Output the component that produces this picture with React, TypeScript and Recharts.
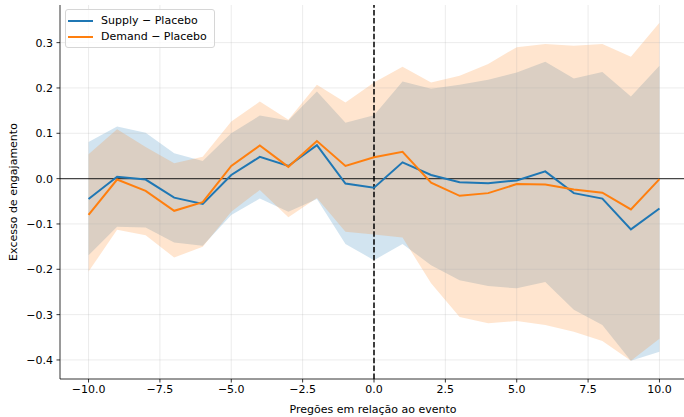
import React from "react";
import {
  ComposedChart,
  Area,
  Line,
  XAxis,
  YAxis,
  ReferenceLine,
} from "recharts";

const steps = [-10, -9, -8, -7, -6, -5, -4, -3, -2, -1, 0, 1, 2, 3, 4, 5, 6, 7, 8, 9, 10];
const supply = [-0.045, 0.004, -0.002, -0.042, -0.056, 0.008, 0.048, 0.028, 0.074, -0.011, -0.02, 0.036, 0.008, -0.008, -0.01, -0.004, 0.016, -0.032, -0.044, -0.112, -0.066];
const supplyLow = [-0.169, -0.106, -0.108, -0.141, -0.148, -0.08, -0.044, -0.073, -0.045, -0.144, -0.18, -0.144, -0.191, -0.224, -0.237, -0.242, -0.228, -0.289, -0.323, -0.402, -0.382];
const supplyHigh = [0.081, 0.115, 0.101, 0.056, 0.039, 0.1, 0.139, 0.128, 0.192, 0.123, 0.14, 0.214, 0.198, 0.207, 0.218, 0.234, 0.258, 0.221, 0.235, 0.181, 0.249];
const demand = [-0.08, -0.002, -0.027, -0.071, -0.052, 0.028, 0.073, 0.026, 0.083, 0.028, 0.047, 0.059, -0.009, -0.038, -0.032, -0.012, -0.013, -0.024, -0.031, -0.068, -0.001];
const demandLow = [-0.205, -0.113, -0.125, -0.174, -0.15, -0.073, -0.025, -0.085, -0.043, -0.117, -0.123, -0.13, -0.231, -0.305, -0.319, -0.314, -0.323, -0.338, -0.358, -0.402, -0.353];
const demandHigh = [0.054, 0.109, 0.07, 0.034, 0.048, 0.126, 0.17, 0.13, 0.207, 0.168, 0.212, 0.247, 0.212, 0.227, 0.253, 0.29, 0.297, 0.293, 0.297, 0.269, 0.344];

const xTicks = [-10, -7.5, -5, -2.5, 0, 2.5, 5, 7.5, 10];
const yTicks = [-0.4, -0.3, -0.2, -0.1, 0, 0.1, 0.2, 0.3];

const seriesNames = ["Supply \u2212 Placebo", "Demand \u2212 Placebo"];
const xLabel = "Preg\u00f5es em rela\u00e7\u00e3o ao evento";
const yLabel = "Excesso de engajamento";

const BLUE = "#1f77b4";
const ORANGE = "#ff7f0e";
const FONT = "DejaVu Sans, sans-serif";
const FS = 11;

const data = steps.map((x, i) => ({
  x,
  s: supply[i],
  sBand: [supplyLow[i], supplyHigh[i]],
  d: demand[i],
  dBand: [demandLow[i], demandHigh[i]],
}));

const fmt = (v: number) => (v < 0 ? "\u2212" : "") + Math.abs(v).toFixed(1);

export default function App() {
  const tickStyle = { fontSize: FS, fontFamily: FONT, fill: "#000" };
  return (
    <div
      style={{
        position: "absolute",
        left: 0,
        top: 0,
        width: 684,
        height: 417,
        overflow: "hidden",
        background: "#fff",
      }}
    >
      <ComposedChart
        width={700}
        height={417}
        data={data}
        margin={{ top: 5, right: 12, bottom: 0, left: 0 }}
      >
        {xTicks.map((t) => (
          <ReferenceLine key={"gx" + t} x={t} stroke="#b0b0b0" strokeOpacity={0.3} strokeWidth={0.8} />
        ))}
        {yTicks.map((t) => (
          <ReferenceLine key={"gy" + t} y={t} stroke="#b0b0b0" strokeOpacity={0.3} strokeWidth={0.8} />
        ))}
        <XAxis
          xAxisId={0}
          dataKey="x"
          type="number"
          domain={[-11, 11]}
          ticks={xTicks}
          tickFormatter={fmt}
          allowDataOverflow
          height={38}
          tickSize={3.5}
          tickMargin={3}
          tick={tickStyle}
          stroke="#000"
          axisLine={{ stroke: "#000", strokeWidth: 0.8 }}
          tickLine={{ stroke: "#000", strokeWidth: 0.8 }}
          label={{
            content: () => (
              <text x={373} y={413} textAnchor="middle" fontSize={FS} fontFamily={FONT} fill="#000">
                {xLabel}
              </text>
            ),
          }}
        />
        <XAxis
          xAxisId="top"
          orientation="top"
          dataKey="x"
          type="number"
          domain={[-11, 11]}
          height={0}
          tick={false}
          tickLine={false}
          axisLine={{ stroke: "#000", strokeWidth: 0.8 }}
        />
        <YAxis
          type="number"
          domain={[-0.442, 0.383]}
          ticks={yTicks}
          tickFormatter={fmt}
          allowDataOverflow
          width={60}
          tickSize={3.5}
          tickMargin={3.5}
          tick={tickStyle}
          axisLine={{ stroke: "#000", strokeWidth: 0.8 }}
          tickLine={{ stroke: "#000", strokeWidth: 0.8 }}
          label={{
            content: () => (
              <text
                x={17}
                y={192}
                transform="rotate(-90 17 192)"
                textAnchor="middle"
                fontSize={FS}
                fontFamily={FONT}
                fill="#000"
              >
                {yLabel}
              </text>
            ),
          }}
        />
        <Area
          dataKey="sBand"
          type="linear"
          stroke="none"
          fill={BLUE}
          fillOpacity={0.2}
          isAnimationActive={false}
          activeDot={false}
        />
        <Area
          dataKey="dBand"
          type="linear"
          stroke="none"
          fill={ORANGE}
          fillOpacity={0.2}
          isAnimationActive={false}
          activeDot={false}
        />
        <ReferenceLine y={0} stroke="#000" strokeOpacity={0.7} strokeWidth={1.2} />
        <ReferenceLine x={0} stroke="#000" strokeWidth={1.5} strokeDasharray="5.5 2.4" />
        <Line
          dataKey="s"
          type="linear"
          stroke={BLUE}
          strokeWidth={2}
          dot={false}
          activeDot={false}
          isAnimationActive={false}
        />
        <Line
          dataKey="d"
          type="linear"
          stroke={ORANGE}
          strokeWidth={2}
          dot={false}
          activeDot={false}
          isAnimationActive={false}
        />
      </ComposedChart>
      <div
        style={{
          position: "absolute",
          left: 65,
          top: 9,
          width: 150,
          height: 39,
          border: "1px solid #d6d6d6",
          borderRadius: 3,
          background: "rgba(255,255,255,0.8)",
          fontFamily: FONT,
          fontSize: FS,
          color: "#000",
          boxSizing: "border-box",
        }}
      >
        {seriesNames.map((n, i) => (
          <div
            key={n}
            style={{ position: "absolute", left: 2, top: 3.5 + i * 16.7, height: 14, display: "flex", alignItems: "center" }}
          >
            <div style={{ width: 25, height: 2, background: i === 0 ? BLUE : ORANGE }} />
            <span style={{ marginLeft: 8, whiteSpace: "nowrap", lineHeight: "14px" }}>{n}</span>
          </div>
        ))}
      </div>
    </div>
  );
}
